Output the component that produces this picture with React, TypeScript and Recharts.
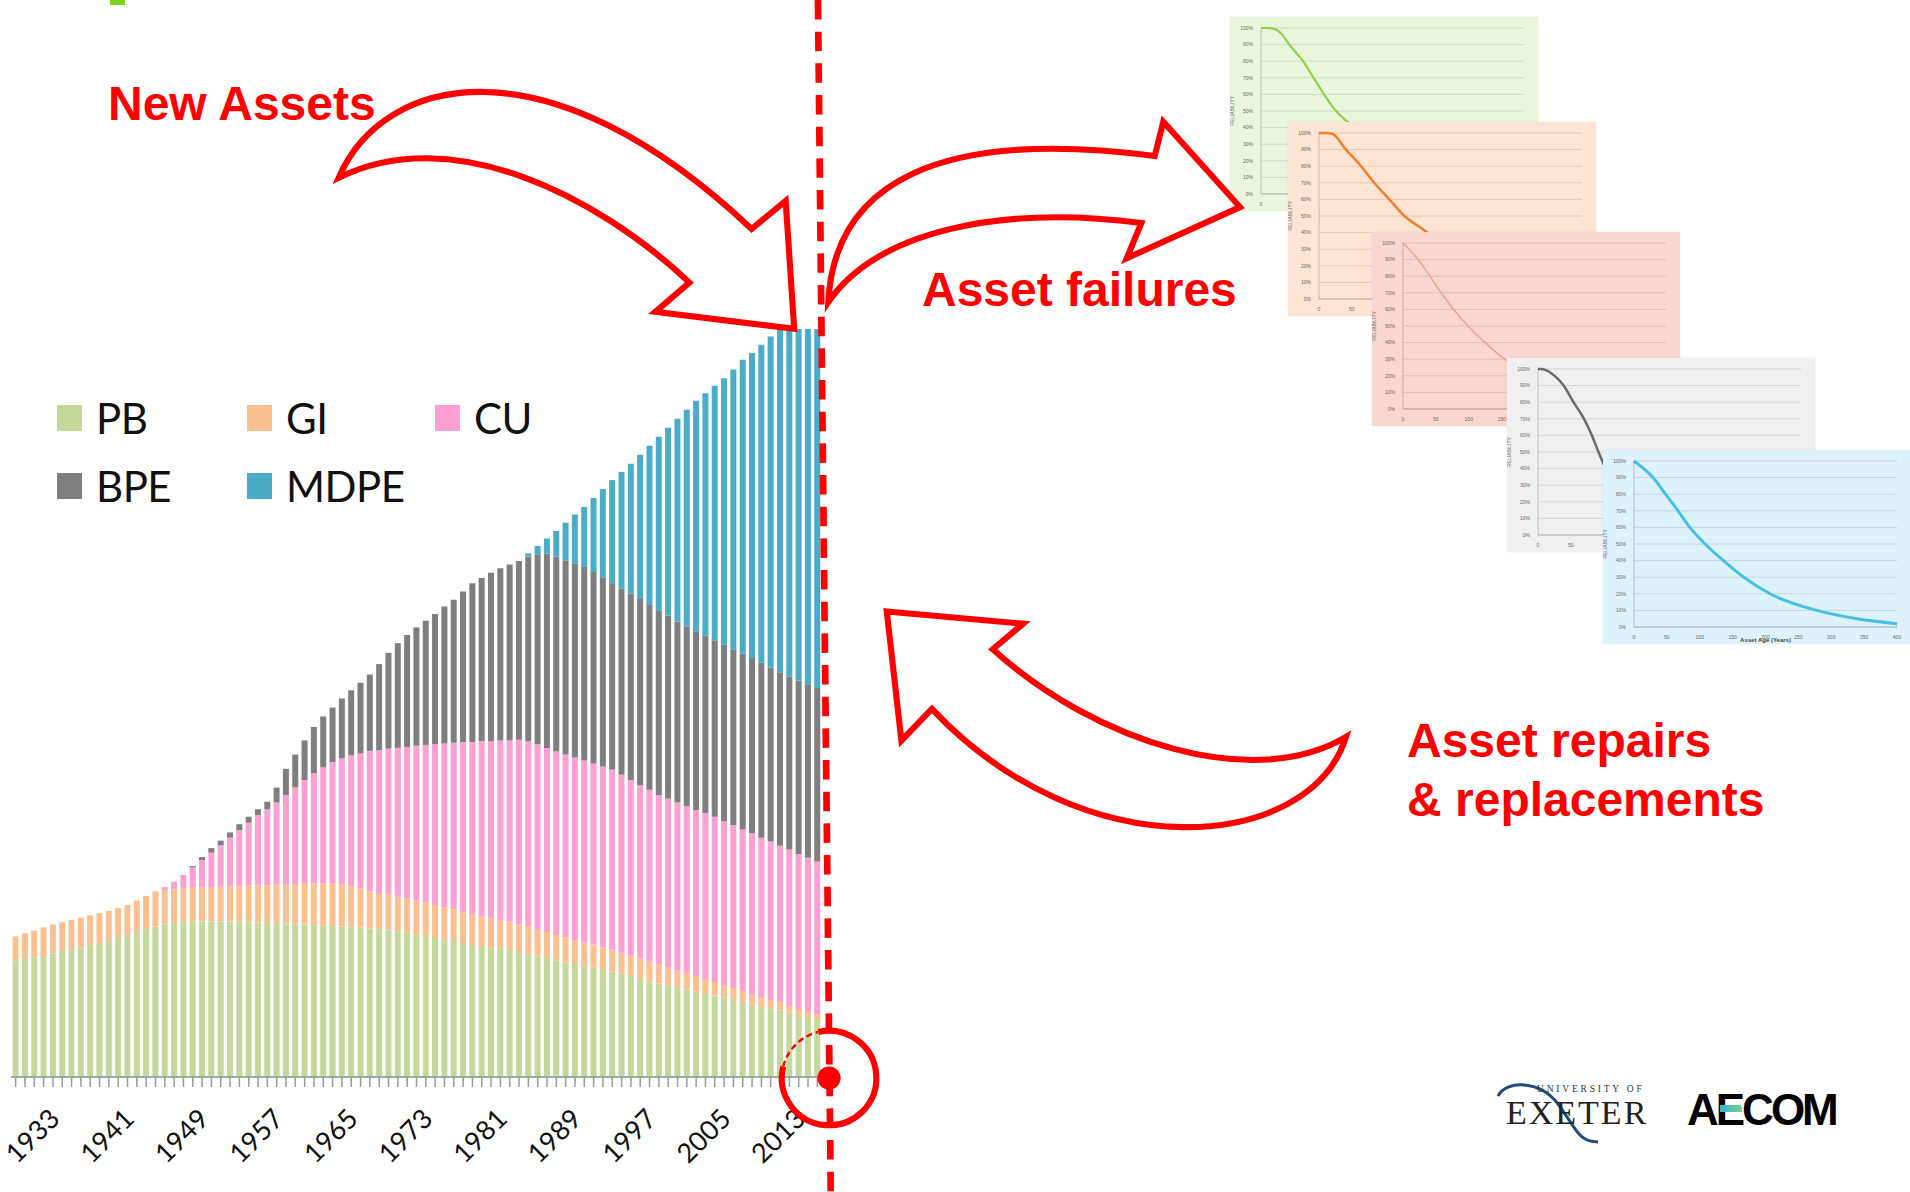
import React from 'react';
import { BarChart, Bar, XAxis, YAxis, Legend, LineChart, Line, CartesianGrid, Label } from 'recharts';

// ---------- Main stacked chart data ----------
const years = [
  1929, 1930, 1931, 1932, 1933, 1934, 1935, 1936, 1937, 1938,
  1939, 1940, 1941, 1942, 1943, 1944, 1945, 1946, 1947, 1948,
  1949, 1950, 1951, 1952, 1953, 1954, 1955, 1956, 1957, 1958,
  1959, 1960, 1961, 1962, 1963, 1964, 1965, 1966, 1967, 1968,
  1969, 1970, 1971, 1972, 1973, 1974, 1975, 1976, 1977, 1978,
  1979, 1980, 1981, 1982, 1983, 1984, 1985, 1986, 1987, 1988,
  1989, 1990, 1991, 1992, 1993, 1994, 1995, 1996, 1997, 1998,
  1999, 2000, 2001, 2002, 2003, 2004, 2005, 2006, 2007, 2008,
  2009, 2010, 2011, 2012, 2013, 2014, 2015,
];
const pb = [
  15.6, 15.8, 16.0, 16.2, 16.5, 16.7, 17.0, 17.3, 17.6, 17.9,
  18.2, 18.6, 19.0, 19.4, 19.8, 20.1, 20.4, 20.6, 20.7, 20.8,
  20.8, 20.8, 20.8, 20.8, 20.8, 20.7, 20.7, 20.6, 20.6, 20.5,
  20.5, 20.4, 20.3, 20.3, 20.2, 20.1, 20.1, 20.0, 19.9, 19.8,
  19.6, 19.5, 19.3, 19.1, 19.0, 18.7, 18.4, 18.2, 17.9, 17.6,
  17.5, 17.3, 17.2, 17.0, 16.7, 16.4, 16.1, 15.9, 15.6, 15.3,
  15.1, 14.8, 14.6, 14.3, 14.1, 13.8, 13.5, 13.2, 12.8, 12.5,
  12.2, 11.9, 11.7, 11.4, 11.1, 10.9, 10.6, 10.3, 10.0, 9.7,
  9.4, 9.2, 8.9, 8.6, 8.3, 7.9, 7.6,
];
const gi = [
  3.2, 3.4, 3.6, 3.8, 3.9, 4.0, 4.0, 4.0, 4.0, 4.0,
  4.0, 4.0, 4.0, 4.2, 4.4, 4.7, 4.6, 4.5, 4.5, 4.5,
  4.6, 4.6, 4.7, 4.7, 4.7, 4.9, 4.9, 5.0, 5.1, 5.3,
  5.3, 5.5, 5.6, 5.6, 5.7, 5.7, 5.4, 5.2, 4.9, 4.8,
  4.8, 4.6, 4.6, 4.5, 4.4, 4.3, 4.3, 4.2, 4.1, 4.1,
  4.0, 4.0, 3.8, 3.8, 3.7, 3.7, 3.6, 3.5, 3.4, 3.4,
  3.2, 3.2, 3.1, 3.0, 2.9, 2.8, 2.7, 2.6, 2.6, 2.5,
  2.4, 2.3, 2.1, 2.1, 2.0, 1.8, 1.7, 1.6, 1.5, 1.4,
  1.3, 1.1, 1.1, 0.9, 0.8, 0.8, 0.8,
];
const cu = [
  0, 0, 0, 0, 0, 0, 0, 0, 0, 0,
  0, 0, 0, 0, 0, 0, 0.4, 1.0, 1.8, 2.7,
  3.6, 4.6, 5.5, 6.5, 7.5, 8.4, 9.4, 10.2, 11.0, 11.9,
  12.9, 13.8, 14.7, 15.5, 16.2, 16.8, 17.5, 18.1, 18.8, 19.1,
  19.5, 19.9, 20.2, 20.7, 21.0, 21.5, 21.9, 22.3, 22.8, 23.1,
  23.4, 23.6, 24.0, 24.2, 24.7, 24.8, 24.8, 24.6, 24.5, 24.4,
  24.4, 24.3, 24.2, 24.2, 24.1, 23.8, 23.5, 23.2, 23.0, 22.7,
  22.6, 22.5, 22.4, 22.2, 22.2, 22.1, 21.9, 21.8, 21.6, 21.5,
  21.3, 21.2, 20.9, 20.9, 20.7, 20.6, 20.4,
];
const bpe = [
  0, 0, 0, 0, 0, 0, 0, 0, 0, 0,
  0, 0, 0, 0, 0, 0, 0, 0, 0, 0.2,
  0.4, 0.6, 0.6, 0.7, 0.8, 0.8, 0.8, 1.0, 2.0, 3.5,
  4.4, 5.3, 6.2, 6.8, 7.3, 8.0, 8.7, 9.4, 10.2, 11.5,
  12.8, 14.0, 15.0, 15.8, 16.6, 17.4, 18.3, 19.1, 20.1, 21.2,
  21.8, 22.5, 23.0, 23.5, 23.9, 24.7, 25.4, 26.0, 26.1, 26.0,
  25.9, 25.9, 25.6, 25.3, 24.9, 24.9, 24.9, 24.9, 24.7, 24.7,
  24.5, 24.2, 24.0, 23.9, 23.7, 23.6, 23.6, 23.5, 23.5, 23.4,
  23.4, 23.2, 23.2, 23.1, 23.2, 23.2, 23.2,
];
const mdpe = [
  0, 0, 0, 0, 0, 0, 0, 0, 0, 0,
  0, 0, 0, 0, 0, 0, 0, 0, 0, 0,
  0, 0, 0, 0, 0, 0, 0, 0, 0, 0,
  0, 0, 0, 0, 0, 0, 0, 0, 0, 0,
  0, 0, 0, 0, 0, 0, 0, 0, 0, 0,
  0, 0, 0, 0, 0, 0.4, 1.1, 2.0, 3.4, 5.0,
  6.6, 8.0, 9.9, 11.8, 13.8, 15.6, 17.4, 19.3, 21.3, 23.2,
  25.1, 27.1, 29.0, 30.8, 32.4, 34.0, 35.6, 37.4, 39.3, 40.8,
  42.5, 44.3, 45.9, 46.5, 47.0, 47.5, 48.0,
];
const labelYears = [1933, 1941, 1949, 1957, 1965, 1973, 1981, 1989, 1997, 2005, 2013];
const seriesNames = ['PB', 'GI', 'CU', 'BPE', 'MDPE'];
const seriesColors = ['#c4d89c', '#fbc08f', '#fc9fd2', '#7f7f7f', '#4aacc6'];
const seriesValues = [pb, gi, cu, bpe, mdpe];

const mainData = years.map((y, i) => {
  const row: any = { year: y };
  seriesNames.forEach((n, k) => { row[n] = seriesValues[k][i]; });
  return row;
});

// ---------- Reliability panels ----------
const relTicks = [0, 10, 20, 30, 40, 50, 60, 70, 80, 90, 100];
const ageTicksFull = [0, 50, 100, 150, 200, 250, 300, 350, 400];
// only the age ticks left uncovered by the panel stacked on top
const ageTicksP1 = [0];
const ageTicksP2 = [0, 50];
const ageTicksP3 = [0, 50, 100, 150];
const ageTicksP4 = [0, 50];

const p1Age = [0, 10, 20, 30, 43, 64, 80, 96, 114, 130, 148, 170, 200, 240, 290, 340, 400];
const p1Rel = [100, 100, 99.5, 97, 90, 80, 70, 60, 50, 44, 38, 31, 23, 15, 9, 5, 3];
const p2Age = [0, 10, 20, 41, 64, 84, 107, 130, 158, 190, 230, 280, 340, 400];
const p2Rel = [100, 100, 99.5, 90, 80, 70, 60, 50, 42, 33, 24, 15, 8, 4];
const p3Age = [0, 23, 41, 58, 77, 99, 125, 155, 190, 240, 300, 400];
const p3Rel = [100, 90, 80, 70, 60, 50, 40, 30, 22, 14, 8, 3];
const p4Age = [0, 5, 11, 25, 39, 54, 70, 82, 92, 103, 120, 150, 200, 260, 330, 400];
const p4Rel = [100, 100, 99.5, 96, 90, 80, 70, 60, 50, 40, 30, 19, 10, 5, 2, 1];
const p5Age = [0, 29, 48, 67, 85, 108, 136, 167, 207, 278, 339, 400];
const p5Rel = [100, 90, 80, 70, 60, 50, 40, 30, 20, 10, 5, 2];

const panels = [
  { age: p1Age, rel: p1Rel, ticks: ageTicksP1, left: 1230, top: 17, bg: '#eaf6dc', line: '#8ed14b', lw: 2.2, xLabel: '' },
  { age: p2Age, rel: p2Rel, ticks: ageTicksP2, left: 1288, top: 122, bg: '#fde4d3', line: '#f07f2a', lw: 2.5, xLabel: '' },
  { age: p3Age, rel: p3Rel, ticks: ageTicksP3, left: 1372, top: 232, bg: '#fad6d0', line: '#f2a494', lw: 1.6, xLabel: '' },
  { age: p4Age, rel: p4Rel, ticks: ageTicksP4, left: 1507, top: 358, bg: '#f0f0f0', line: '#6a6a6a', lw: 2.5, xLabel: '' },
  { age: p5Age, rel: p5Rel, ticks: ageTicksFull, left: 1603, top: 450, bg: '#def2fb', line: '#47c0e6', lw: 3, xLabel: 'Asset Age (Years)' },
];

const YearTick = (props: any) => {
  const { x, y, payload } = props;
  if (!labelYears.includes(payload.value)) return <g />;
  const ax = x + 1;
  const ay = y + 24;
  return (
    <text x={ax} y={ay} textAnchor="end" dominantBaseline="central"
      transform={`rotate(-45 ${ax} ${ay})`}
      style={{ fontFamily: 'Lato', fontSize: 27, fill: '#111' }}>
      {payload.value}
    </text>
  );
};

const renderLegend = () => (
  <div style={{ display: 'grid', gridTemplateColumns: '190px 188px 190px', gridAutoRows: '68px', fontFamily: 'Lato', fontSize: 42, letterSpacing: -0.5, color: '#111' }}>
    {seriesNames.map((n, i) => (
      <div key={n} style={{ display: 'flex', alignItems: 'center' }}>
        <span style={{ width: 25, height: 26, background: seriesColors[i], marginRight: 14, display: 'inline-block', flex: 'none' }} />
        <span style={{ lineHeight: 1.2 }}>{n}</span>
      </div>
    ))}
  </div>
);

const Panel = ({ p }: any) => {
  const data = p.age.map((a: number, i: number) => ({ age: a, rel: p.rel[i] }));
  return (
    <div style={{ position: 'absolute', left: p.left, top: p.top, width: 308, height: 194, background: p.bg, boxShadow: '0 0 2px rgba(0,0,0,0.08)' }}>
      <LineChart width={308} height={194} data={data} margin={{ top: 11, right: 14, left: 0, bottom: 0 }}>
        <CartesianGrid vertical={false} stroke="rgba(0,0,0,0.14)" strokeWidth={0.8} />
        <XAxis dataKey="age" type="number" domain={[0, 400]} ticks={p.ticks} height={17}
          tick={{ fontSize: 5, fill: '#666', fontFamily: 'Liberation Sans' }} tickLine={false}
          axisLine={{ stroke: 'rgba(0,0,0,0.2)' }} interval={0}>
          {p.xLabel ? <Label value={p.xLabel} position="insideBottom" offset={2}
            style={{ fontSize: 6, fontWeight: 'bold', fill: '#444', fontFamily: 'Liberation Sans' }} /> : null}
        </XAxis>
        <YAxis type="number" domain={[0, 100]} ticks={relTicks} width={31} interval={0}
          tickFormatter={(v: number) => `${v}%`} tickLine={false}
          axisLine={{ stroke: 'rgba(0,0,0,0.2)' }}
          tick={{ fontSize: 5, fill: '#666', fontFamily: 'Liberation Sans' }}>
          <Label value="RELIABILITY" angle={-90} position="insideLeft" offset={2}
            style={{ fontSize: 5, fill: '#666', fontFamily: 'Liberation Sans', textAnchor: 'middle' }} />
        </YAxis>
        <Line type="monotone" dataKey="rel" stroke={p.line} strokeWidth={p.lw} dot={false} isAnimationActive={false} />
      </LineChart>
    </div>
  );
};

const redFont = { fontFamily: 'Liberation Sans', fontWeight: 'bold' as const, fontSize: 48, fill: '#ff0000' };

export default function App() {
  return (
    <div style={{ position: 'fixed', left: 0, top: 0, width: 1910, height: 1192, background: '#fff', overflow: 'hidden' }}>
      <div style={{ position: 'absolute', left: 0, top: 0 }}>
        <BarChart width={830} height={1192} data={mainData} barCategoryGap="17%"
          margin={{ top: 329, right: 8, bottom: 0, left: 11 }}>
          <XAxis dataKey="year" interval={0} height={115} tickSize={10}
            tick={<YearTick />} tickLine={{ stroke: '#999', strokeWidth: 1.5 }}
            axisLine={{ stroke: '#a6a6a6', strokeWidth: 2 }} />
          <YAxis hide domain={[0, 100]} />
          <Legend layout="horizontal" verticalAlign="middle" align="center" content={renderLegend}
            wrapperStyle={{ left: 57, top: 384, width: 600, height: 140 }} />
          {seriesNames.map((n, i) => (
            <Bar key={n} dataKey={n} stackId="a" fill={seriesColors[i]} isAnimationActive={false} />
          ))}
        </BarChart>
      </div>

      {panels.map((p, i) => <Panel key={i} p={p} />)}

      <svg width={1910} height={1192} style={{ position: 'absolute', left: 0, top: 0, pointerEvents: 'none' }}>
        <rect x={110} y={0} width={15} height={5} fill="#7ed321" />
        <g transform="scale(1.2181)" fill="#fff" stroke="#ff0000" strokeWidth={5} strokeLinejoin="miter">
          <line x1={671.5} y1={0} x2={682} y2={979} strokeDasharray="16 10" strokeWidth={5.5} />
          <path d="M 278 146 C 315 60, 450 30, 617 188 L 645 165 L 652 270 L 538 256 L 566 232 C 490 160, 370 100, 278 146 Z" />
          <path d="M 680 248 C 685 150, 770 105, 948 128 L 955 100 L 1018 170 L 925 212 L 937 183 C 820 168, 720 190, 680 248 Z" />
          <path d="M 728 502 L 840 512 L 815 533 C 900 610, 1030 650, 1105 605 C 1075 700, 890 715, 765 582 L 740 608 Z" />
          <path d="M 671.9 847.2 A 38.8 38.8 0 1 1 643 875.6" fill="none" strokeWidth={5} />
          <path d="M 643 875.6 A 38.8 38.8 0 0 1 671.9 847.2" fill="none" strokeWidth={2} strokeDasharray="5 3" />
          <circle cx={680.6} cy={885} r={9.5} fill="#ff0000" stroke="none" />
        </g>
        <text x={108} y={120} style={redFont}>New Assets</text>
        <text x={922} y={306} style={redFont}>Asset failures</text>
        <text x={1407} y={757} style={redFont}>Asset repairs</text>
        <text x={1407} y={816} style={redFont}>&amp; replacements</text>

        {/* University of Exeter logo */}
        <path d="M 1498 1096 C 1506 1080, 1540 1080, 1558 1104 S 1578 1142, 1598 1142" fill="none" stroke="#1f4e79" strokeWidth={3} />
        <text x={1537} y={1092} style={{ fontFamily: 'Liberation Serif', fontSize: 9.5, letterSpacing: 2.8, fill: '#333' }}>UNIVERSITY OF</text>
        <text x={1506} y={1124} style={{ fontFamily: 'Liberation Serif', fontSize: 34, letterSpacing: 2, fill: '#222' }}>EXETER</text>

        {/* AECOM logo */}
        <text x={1687} y={1125} style={{ fontFamily: 'Liberation Sans', fontWeight: 900, fontSize: 44, letterSpacing: -3, fill: '#000' }}>AECOM</text>
        <defs>
          <linearGradient id="aecomG" x1="0" x2="1" y1="0" y2="0">
            <stop offset="0" stopColor="#2fb5d6" />
            <stop offset="1" stopColor="#7ad08c" />
          </linearGradient>
        </defs>
        <rect x={1720} y={1105} width={21} height={7} fill="url(#aecomG)" />
      </svg>
    </div>
  );
}
